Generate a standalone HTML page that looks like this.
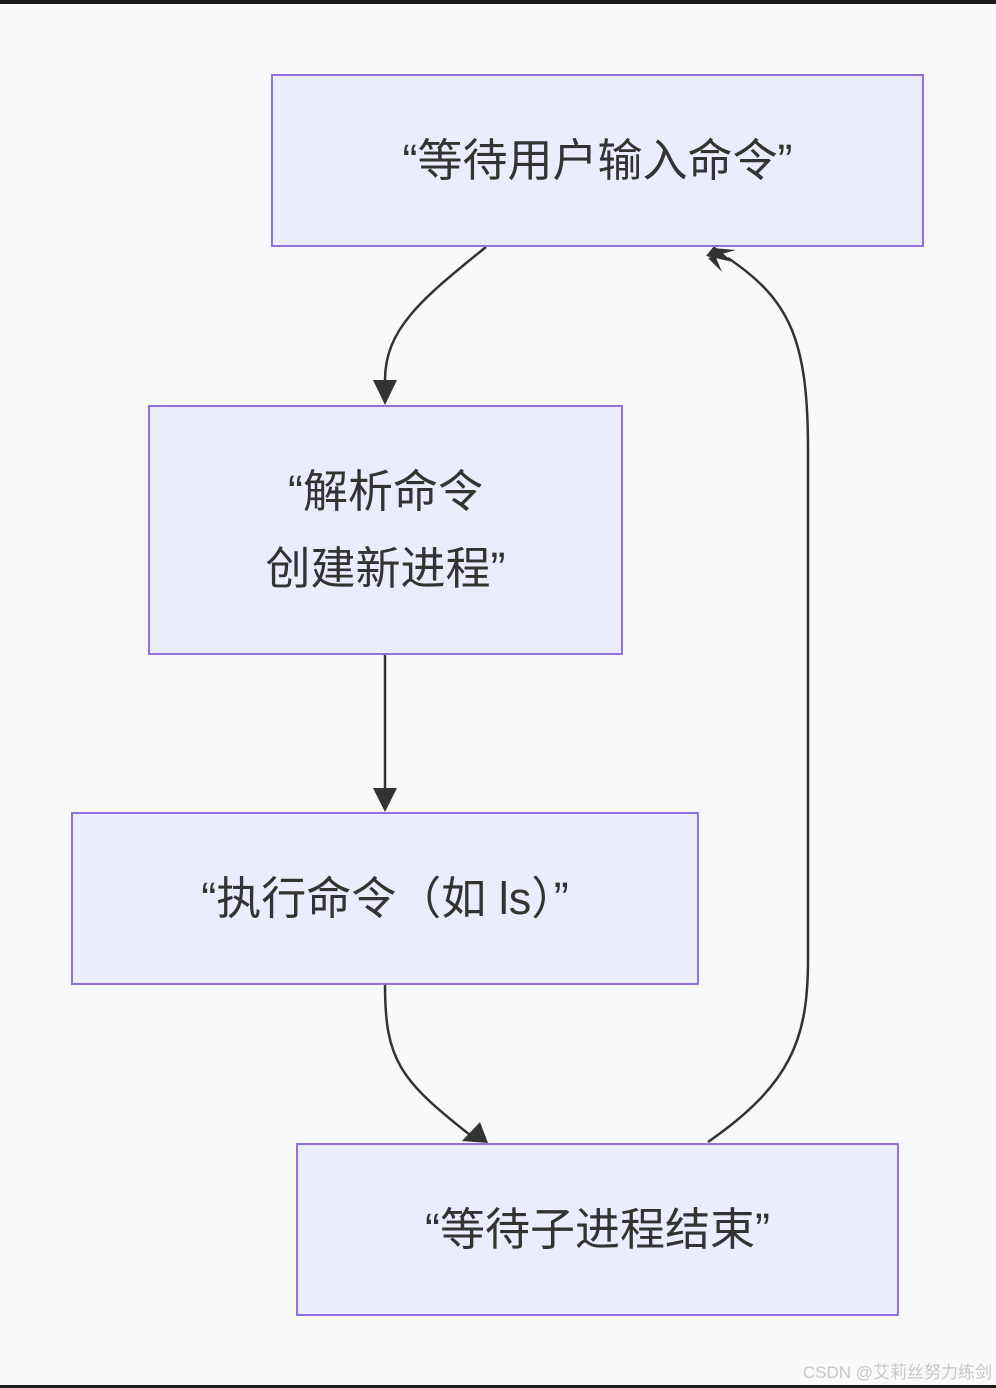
<!DOCTYPE html>
<html><head><meta charset="utf-8"><style>
html,body{margin:0;padding:0;}
body{width:996px;height:1388px;background:#f8f9fb;position:relative;overflow:hidden;font-family:"Liberation Sans","Noto Sans CJK SC",sans-serif;}
.bar{position:absolute;left:0;width:996px;background:#1c1c1c;}
.box{position:absolute;box-sizing:border-box;background:#ececff;border:2.5px solid #9370db;display:flex;align-items:center;justify-content:center;text-align:center;color:#333;font-size:45px;line-height:77px;}
.wm{position:absolute;right:4px;top:1358px;font-size:17px;color:#c8c8c8;}
</style></head><body>
<div class="bar" style="top:0;height:4px"></div>
<div class="bar" style="top:1385px;height:3px"></div>
<svg style="position:absolute;left:0;top:0" width="996" height="1388">
<defs><marker id="m" viewBox="0 0 10 10" refX="9" refY="5" markerWidth="8" markerHeight="8" orient="auto" markerUnits="userSpaceOnUse"><path d="M0,0L10,5L0,10z" fill="#333"/></marker></defs>
<g fill="none" stroke="#333" stroke-width="2.5">
<path d="M486,247 C420,300 385,330 385,380"/>
<path d="M385,655 L385,790"/>
<path d="M385,985 C385,1060 400,1080 470,1135"/>
<path d="M708,1142 C790,1085 808,1040 808,960 L808,450 C808,340 790,300 728,258"/>
</g>
<g fill="#333">
<path d="M373,380 L397,380 L385,405 Z"/>
<path d="M373,788 L397,788 L385,812 Z"/>
<path d="M462,1141 L480,1122 L488,1143 Z"/>
<path d="M708,258 L736,250 L712,248 L722,272 Z"/>
<path d="M706,256 L733,262 L714,246 Z"/>
</g>
</svg>
<div class="box" style="left:271px;top:74px;width:653px;height:173px">“等待用户输入命令”</div>
<div class="box" style="left:148px;top:405px;width:475px;height:250px">“解析命令<br>创建新进程”</div>
<div class="box" style="left:71px;top:812px;width:628px;height:173px">“执行命令（如 ls）”</div>
<div class="box" style="left:296px;top:1143px;width:603px;height:173px">“等待子进程结束”</div>
<div class="wm">CSDN @艾莉丝努力练剑</div>
</body></html>
